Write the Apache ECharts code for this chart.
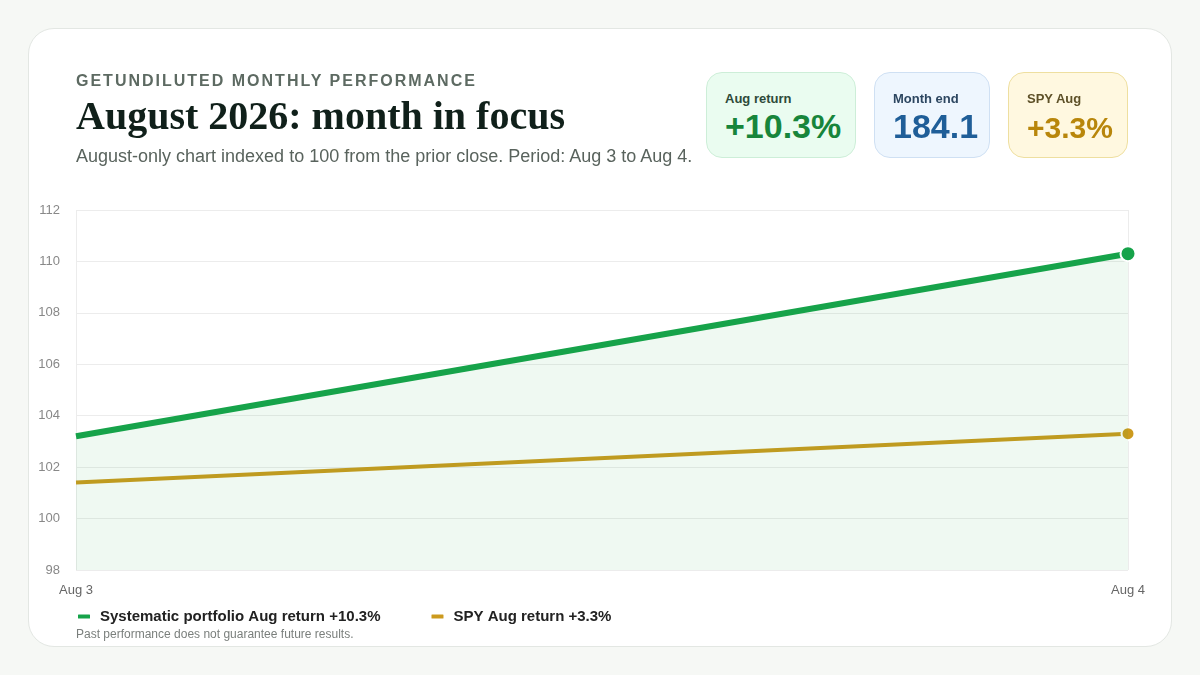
<!DOCTYPE html>
<html>
<head>
<meta charset="utf-8">
<script src="https://cdn.jsdelivr.net/npm/echarts@6/dist/echarts.min.js"></script>
<style>
  html, body { margin: 0; padding: 0; }
  body { width: 1200px; height: 675px; background: #f6f8f5; position: relative; overflow: hidden;
         font-family: "Liberation Sans", Arial, sans-serif; }
  .card { position: absolute; left: 28px; top: 28px; width: 1142px; height: 617px; background: #fff;
          border: 1px solid #e3e7e3; border-radius: 26px; }
  #chart { position: absolute; left: 0; top: 0; width: 1200px; height: 675px; }
  .eyebrow { position: absolute; left: 76px; top: 72px; font-size: 16px; font-weight: bold; letter-spacing: 2px;
             color: #5d6a62; }
  .title { position: absolute; left: 76px; top: 92px; font-family: "Liberation Serif", "Times New Roman", serif;
           font-size: 40px; font-weight: bold; color: #10201a; white-space: nowrap; }
  .sub { position: absolute; left: 76px; top: 146px; font-size: 18px; color: #59635d; white-space: nowrap; }
  .kpi { position: absolute; top: 72px; height: 86px; border-radius: 16px; box-sizing: border-box; padding-left: 18px; }
  .kpi .lab { position: absolute; top: 18px; font-size: 13px; font-weight: bold; white-space: nowrap; }
  .kpi .val { position: absolute; top: 34px; font-size: 34px; font-weight: bold; white-space: nowrap; }
  .foot { position: absolute; left: 76px; top: 627px; font-size: 12px; color: #7a7f7c; }
</style>
</head>
<body>
<div class="card"></div>
<div id="chart"></div>
<div class="eyebrow">GETUNDILUTED MONTHLY PERFORMANCE</div>
<div class="title">August 2026: month in focus</div>
<div class="sub">August-only chart indexed to 100 from the prior close. Period: Aug 3 to Aug 4.</div>

<div class="kpi" style="left:706px;width:150px;background:#eafcf0;border:1px solid #cdeed8;">
  <div class="lab" style="color:#2e4a3a;">Aug return</div>
  <div class="val" style="color:#17853b;">+10.3%</div>
</div>
<div class="kpi" style="left:874px;width:116px;background:#eef6fe;border:1px solid #cfe0f3;">
  <div class="lab" style="color:#2c4660;">Month end</div>
  <div class="val" style="color:#1f5e98;">184.1</div>
</div>
<div class="kpi" style="left:1008px;width:120px;background:#fff8e0;border:1px solid #eedfa0;">
  <div class="lab" style="color:#5e5128;">SPY Aug</div>
  <div class="val" style="color:#b8860b;font-size:30px;top:38px;">+3.3%</div>
</div>

<div class="foot">Past performance does not guarantee future results.</div>

<script>
// 数据
var days = ['Aug 3', 'Aug 4'];
var portfolio = [103.2, 110.3];
var spy = [101.4, 103.3];
var portfolioName = 'Systematic portfolio Aug return +10.3%';
var spyName = 'SPY Aug return +3.3%';
var yMin = 98, yMax = 112, yStep = 2;

var green = '#16a34a';
var gold = '#cc9a1e';
var gridColor = '#ececec';

var myChart = echarts.init(document.getElementById('chart'));

// 只在最后一点显示圆点
var lastDot = function (arr, size) {
    return arr.map(function (v, i) {
        return { value: v, symbolSize: i === arr.length - 1 ? size : 0 };
    });
};

var option = {
    animation: false,
    grid: {
        left: 76,
        right: 72,
        top: 210,
        bottom: 105,
        containLabel: false
    },
    legend: {
        left: 76,
        top: 609,
        padding: 0,
        itemWidth: 14,
        itemHeight: 6,
        itemGap: 49,
        icon: 'roundRect',
        textStyle: {
            color: '#222',
            fontSize: 15,
            fontWeight: 'bold',
            fontFamily: 'Liberation Sans, Arial, sans-serif',
            padding: [0, 0, 0, 4]
        },
        data: [portfolioName, spyName]
    },
    xAxis: {
        type: 'category',
        boundaryGap: false,
        data: days,
        axisLine: { show: false },
        axisTick: { show: false },
        axisLabel: {
            color: '#666',
            fontSize: 13,
            margin: 14,
            fontFamily: 'Liberation Sans, Arial, sans-serif'
        },
        splitLine: { show: true, lineStyle: { color: gridColor } }
    },
    yAxis: {
        type: 'value',
        min: yMin,
        max: yMax,
        interval: yStep,
        axisLine: { show: false },
        axisTick: { show: false },
        axisLabel: {
            color: '#888',
            fontSize: 13,
            margin: 16,
            fontFamily: 'Liberation Sans, Arial, sans-serif'
        },
        splitLine: { lineStyle: { color: gridColor } }
    },
    series: [
        {
            name: portfolioName,
            type: 'line',
            data: lastDot(portfolio, 15),
            symbol: 'circle',
            itemStyle: { color: green, borderColor: '#fff', borderWidth: 2 },
            lineStyle: { color: green, width: 6 },
            areaStyle: { color: 'rgba(22,163,74,0.1)', origin: 'start' },
            z: 3
        },
        {
            name: spyName,
            type: 'line',
            data: lastDot(spy, 13),
            symbol: 'circle',
            itemStyle: { color: gold, borderColor: '#fff', borderWidth: 2 },
            lineStyle: { color: gold, width: 4 },
            z: 2
        }
    ]
};
myChart.setOption(option);
</script>
</body>
</html>
